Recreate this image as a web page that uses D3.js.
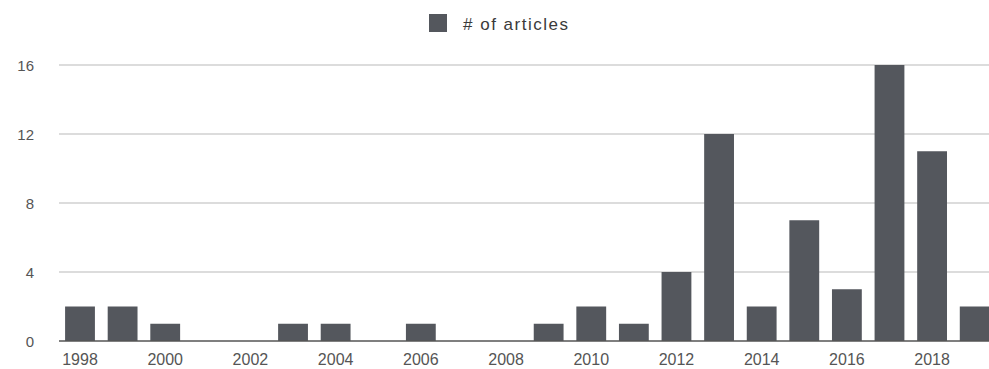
<!DOCTYPE html>
<html>
<head>
<meta charset="utf-8">
<script src="https://cdn.jsdelivr.net/npm/d3@7"></script>
<style>
  body { margin: 0; background: #fff; }
  svg { display: block; font-family: "Liberation Sans", Arial, sans-serif; }
</style>
</head>
<body>
<svg width="989" height="369"></svg>
<script>
const years = [1998, 1999, 2000, 2001, 2002, 2003, 2004, 2005, 2006, 2007, 2008,
  2009, 2010, 2011, 2012, 2013, 2014, 2015, 2016, 2017, 2018, 2019]
const articles = [2, 2, 1, 0, 0, 1, 1, 0, 1, 0, 0, 1, 2, 1, 4, 12, 2, 7, 3, 16, 11, 2]
const yTicks = [0, 4, 8, 12, 16]
const seriesName = "# of articles"

const svg = d3.select("svg")
const barColor = "#54575d"

var x = d3.scaleBand()
  .domain(years)
  .range([58.7, 996])
  .paddingInner(0.3)
  .paddingOuter(0.15)

var y = d3.scaleLinear().domain([0, 16]).range([341, 65])

// gridlines
svg.append("g")
  .selectAll("line")
  .data(yTicks.filter(d => d > 0))
  .enter().append("line")
  .attr("x1", 59).attr("x2", 989)
  .attr("y1", d => y(d)).attr("y2", d => y(d))
  .attr("stroke", "#dcdcdc")
  .attr("stroke-width", 2)

// y labels
svg.append("g")
  .selectAll("text")
  .data(yTicks)
  .enter().append("text")
  .attr("x", 34)
  .attr("y", d => y(d) + 5.5)
  .attr("text-anchor", "end")
  .attr("fill", "#555")
  .style("font-size", "15px")
  .text(d => d)

// bars
svg.append("g")
  .selectAll("rect")
  .data(years)
  .enter().append("rect")
  .attr("x", d => x(d))
  .attr("width", x.bandwidth())
  .attr("y", (d, i) => y(articles[i]))
  .attr("height", (d, i) => y(0) - y(articles[i]))
  .attr("fill", barColor)

// baseline
svg.append("line")
  .attr("x1", 59).attr("x2", 989)
  .attr("y1", y(0)).attr("y2", y(0))
  .attr("stroke", "#555")
  .attr("stroke-width", 1.5)

// x labels every other year
svg.append("g")
  .selectAll("text")
  .data(years.filter(d => d % 2 === 0))
  .enter().append("text")
  .attr("x", d => x(d) + x.bandwidth() / 2)
  .attr("y", 365)
  .attr("text-anchor", "middle")
  .attr("fill", "#555")
  .style("font-size", "16px")
  .text(d => d)

// legend
var lg = svg.append("g").attr("transform", "translate(429,14)")
lg.append("rect").attr("width", 18).attr("height", 18).attr("fill", barColor)
lg.append("text")
  .attr("x", 34).attr("y", 16)
  .attr("fill", "#3a3a3a")
  .style("font-size", "17px")
  .style("letter-spacing", "1.5px")
  .text(seriesName)
</script>
</body>
</html>
